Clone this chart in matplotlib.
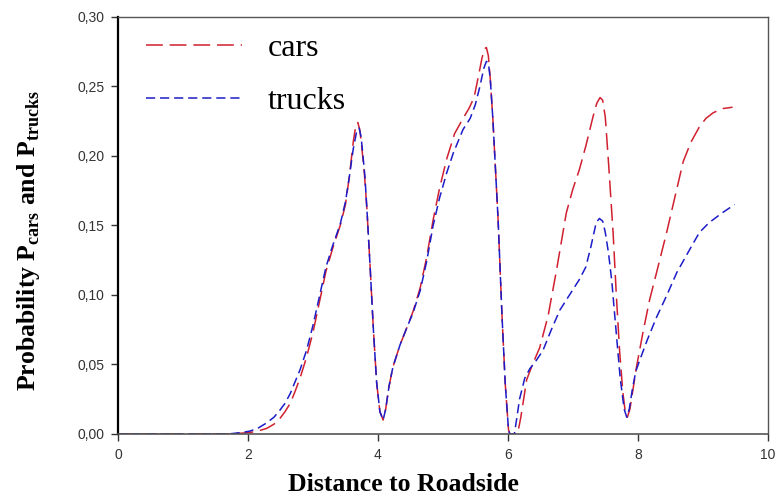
import matplotlib.pyplot as plt
from matplotlib.ticker import FuncFormatter, MultipleLocator

plt.rcParams['mathtext.fontset'] = 'custom'
plt.rcParams['mathtext.rm'] = 'Liberation Serif:bold'
plt.rcParams['mathtext.bf'] = 'Liberation Serif:bold'

# Probability along the distance to the roadside
cars_x = [0.0, 1.7, 1.9, 2.03, 2.15, 2.29, 2.4, 2.49, 2.57, 2.65, 2.72, 2.8,
          2.9, 3.0, 3.1, 3.2, 3.3, 3.42, 3.5, 3.56, 3.62, 3.66, 3.69, 3.72,
          3.75, 3.79, 3.83, 3.88, 3.93, 3.98, 4.03, 4.08, 4.12, 4.17, 4.23,
          4.34, 4.45, 4.54, 4.65, 4.75, 4.85, 4.95, 5.06, 5.18, 5.31, 5.4,
          5.48, 5.55, 5.6, 5.64, 5.67, 5.7, 5.73, 5.77, 5.81, 5.85, 5.91,
          5.96, 6.01, 6.03, 6.15, 6.2, 6.29, 6.38, 6.49, 6.62, 6.75, 6.9,
          7.0, 7.1, 7.2, 7.31, 7.37, 7.42, 7.46, 7.5, 7.55, 7.62, 7.67, 7.72,
          7.77, 7.81, 7.84, 7.88, 7.93, 7.98, 8.08, 8.18, 8.3, 8.45, 8.58,
          8.7, 8.82, 8.95, 9.05, 9.16, 9.3, 9.46]
cars_y = [0.0, 0.0, 0.0005, 0.001, 0.002, 0.004, 0.007, 0.011, 0.016, 0.022,
          0.030, 0.040, 0.055, 0.073, 0.095, 0.117, 0.133, 0.150, 0.165,
          0.185, 0.210, 0.222, 0.224, 0.219, 0.207, 0.188, 0.162, 0.120,
          0.075, 0.037, 0.016, 0.010, 0.018, 0.034, 0.048, 0.064, 0.077,
          0.088, 0.105, 0.127, 0.154, 0.177, 0.198, 0.216, 0.227, 0.234,
          0.242, 0.258, 0.270, 0.277, 0.278, 0.272, 0.255, 0.226, 0.190,
          0.154, 0.085, 0.036, 0.003, 0.0, 0.0, 0.012, 0.039, 0.050, 0.062,
          0.085, 0.118, 0.159, 0.176, 0.190, 0.207, 0.228, 0.238, 0.242,
          0.240, 0.228, 0.195, 0.145, 0.100, 0.060, 0.030, 0.015, 0.012,
          0.018, 0.033, 0.048, 0.073, 0.096, 0.118, 0.146, 0.172, 0.196,
          0.210, 0.221, 0.227, 0.231, 0.234, 0.235]

trucks_x = [0.0, 1.7, 1.77, 1.9, 2.03, 2.15, 2.29, 2.4, 2.49, 2.57, 2.65,
            2.72, 2.8, 2.9, 3.0, 3.1, 3.2, 3.3, 3.42, 3.5, 3.56, 3.62, 3.67,
            3.71, 3.74, 3.77, 3.8, 3.83, 3.88, 3.93, 3.98, 4.03, 4.08, 4.12,
            4.17, 4.23, 4.34, 4.45, 4.54, 4.65, 4.75, 4.85, 4.95, 5.06, 5.16,
            5.31, 5.42, 5.5, 5.57, 5.63, 5.67, 5.7, 5.73, 5.77, 5.81, 5.85,
            5.91, 5.96, 6.01, 6.03, 6.1, 6.14, 6.18, 6.26, 6.34, 6.44, 6.54,
            6.67, 6.8, 6.95, 7.1, 7.2, 7.28, 7.36, 7.41, 7.46, 7.5, 7.55, 7.6,
            7.67, 7.73, 7.79, 7.83, 7.87, 7.92, 7.97, 8.03, 8.15, 8.29, 8.45,
            8.6, 8.78, 8.95, 9.1, 9.3, 9.49]
trucks_y = [0.0, 0.0, 0.0003, 0.001, 0.002, 0.004, 0.008, 0.012, 0.017,
            0.022, 0.029, 0.037, 0.046, 0.060, 0.078, 0.099, 0.120, 0.135,
            0.151, 0.167, 0.185, 0.205, 0.217, 0.220, 0.214, 0.200, 0.185,
            0.162, 0.120, 0.075, 0.037, 0.016, 0.010, 0.018, 0.034, 0.048,
            0.064, 0.077, 0.087, 0.103, 0.124, 0.150, 0.170, 0.188, 0.202,
            0.219, 0.227, 0.237, 0.250, 0.263, 0.268, 0.267, 0.255, 0.226,
            0.190, 0.154, 0.085, 0.036, 0.003, 0.0, 0.0, 0.012, 0.025, 0.040,
            0.047, 0.053, 0.060, 0.075, 0.089, 0.100, 0.111, 0.120, 0.135,
            0.152, 0.155, 0.153, 0.145, 0.130, 0.110, 0.072, 0.040, 0.018,
            0.012, 0.018, 0.033, 0.045, 0.053, 0.068, 0.084, 0.100, 0.116,
            0.131, 0.145, 0.152, 0.159, 0.165]

x_ticks = [0, 2, 4, 6, 8, 10]

fig = plt.figure(figsize=(7.77, 4.97), dpi=100)
ax = fig.add_axes([0.152, 0.127, 0.836, 0.839])

ax.plot(cars_x, cars_y, color='#d02030', lw=1.1, dashes=(11, 4.5), label='cars')
ax.plot(trucks_x, trucks_y, color='#1c1cc8', lw=1.1, dashes=(6, 3.2), label='trucks')

ax.set_xlim(0, 10)
ax.set_ylim(0, 0.30)
ax.set_xticks(x_ticks)
ax.yaxis.set_major_locator(MultipleLocator(0.05))
ax.yaxis.set_major_formatter(FuncFormatter(lambda v, p: f"{v:.2f}".replace('.', ',')))

for lab in ax.get_xticklabels() + ax.get_yticklabels():
    lab.set_fontfamily('Liberation Sans')
    lab.set_fontsize(10)
    lab.set_color('#333333')
ax.tick_params(direction='out', length=5, width=1, colors='#333333', pad=5)

ax.spines['left'].set_linewidth(1.6)
ax.spines['left'].set_color('black')
ax.spines['bottom'].set_linewidth(1.2)
ax.spines['bottom'].set_color('#555555')
for side in ['top', 'right']:
    ax.spines[side].set_linewidth(1.0)
    ax.spines[side].set_color('#555555')

ax.set_xlabel('Distance to Roadside', fontfamily='Liberation Serif',
              fontweight='bold', fontsize=18.5, va='center')
ax.xaxis.set_label_coords(0.44, -0.122)
ax.set_ylabel(r'Probability P$_{\mathrm{cars}}$ and P$_{\mathrm{trucks}}$',
              fontfamily='Liberation Serif', fontweight='bold', fontsize=18.5)
ax.yaxis.set_label_coords(-0.117, 0.463)

ax.legend(loc='upper left', bbox_to_anchor=(0.043, 0.96), frameon=False,
          prop={'family': 'Liberation Serif', 'size': 23},
          handlelength=3.0, handletextpad=0.8, labelspacing=0.75,
          borderpad=0, borderaxespad=0)

fig.savefig('out.png', dpi=100)
